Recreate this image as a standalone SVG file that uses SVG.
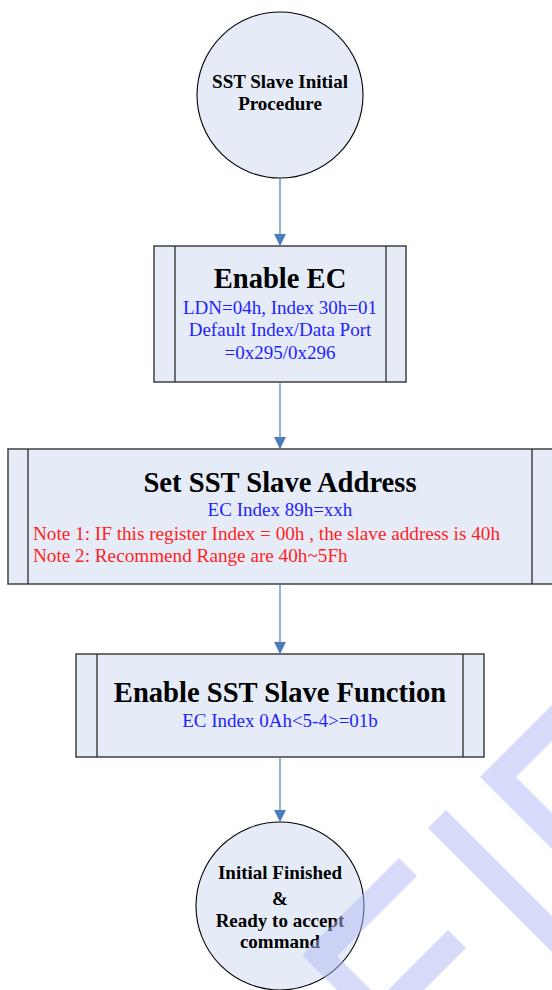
<svg xmlns="http://www.w3.org/2000/svg" width="552" height="990" viewBox="0 0 552 990">
<style>
.node{fill:#e6ecf7;}
.circ{stroke:#000;stroke-width:1.1;}
.box{stroke:#404040;stroke-width:1.5;}
.inner{stroke:#2a2a2a;stroke-width:1.3;}
.t{font-family:"Liberation Serif","Times New Roman",serif;text-anchor:middle;}
.b{font-weight:bold;fill:#000;}
.s{font-size:19px;}
.h{font-size:28.6px;}
.blue{fill:#1f1fff;font-size:19px;}
.red{fill:#ff1f1f;font-size:19.2px;text-anchor:start;}
.conn{stroke:#4a7ebb;stroke-width:1.2;fill:none;}
.wm{fill:#afb7f5;opacity:0.5;}
</style>
<defs>
<marker id="arr" markerUnits="userSpaceOnUse" markerWidth="13" markerHeight="12" refX="12" refY="6" orient="auto">
<path d="M0,0 L12,6 L0,12 z" fill="#4a7ebb"/>
</marker>
</defs>
<rect width="552" height="990" fill="#fff"/>

<g id="start">
<circle class="node circ" cx="280" cy="95" r="83"/>
<text class="t b s" x="280" y="88">SST Slave Initial</text>
<text class="t b s" x="280" y="110">Procedure</text>
</g>

<g id="enable-ec">
<rect class="node box" x="154" y="246" width="252" height="136"/>
<line class="inner" x1="175" y1="246" x2="175" y2="382"/>
<line class="inner" x1="386" y1="246" x2="386" y2="382"/>
<text class="t b h" x="280" y="288">Enable EC</text>
<text class="t blue" x="280" y="314">LDN=04h, Index 30h=01</text>
<text class="t blue" x="280" y="336">Default Index/Data Port</text>
<text class="t blue" x="280" y="359">=0x295/0x296</text>
</g>

<g id="set-address">
<rect class="node box" x="8" y="449" width="545" height="135"/>
<line class="inner" x1="28" y1="449" x2="28" y2="584"/>
<line class="inner" x1="532" y1="449" x2="532" y2="584"/>
<text class="t b h" x="280" y="492">Set SST Slave Address</text>
<text class="t blue" x="280" y="516">EC Index 89h=xxh</text>
<text class="t red" x="33" y="540">Note 1: IF this register Index = 00h , the slave address is 40h</text>
<text class="t red" x="33" y="562">Note 2: Recommend Range are 40h~5Fh</text>
</g>

<g id="enable-function">
<rect class="node box" x="76" y="654" width="408" height="103"/>
<line class="inner" x1="97" y1="654" x2="97" y2="757"/>
<line class="inner" x1="463" y1="654" x2="463" y2="757"/>
<text class="t b h" x="280" y="702">Enable SST Slave Function</text>
<text class="t blue" x="280" y="727">EC Index 0Ah&lt;5-4&gt;=01b</text>
</g>

<g id="finish">
<circle class="node circ" cx="280" cy="906" r="84"/>
<text class="t b s" x="280" y="879">Initial Finished</text>
<text class="t b s" x="280" y="905">&amp;</text>
<text class="t b s" x="280" y="927">Ready to accept</text>
<text class="t b s" x="280" y="948">command</text>
</g>

<g id="connectors">
<line class="conn" x1="280" y1="178" x2="280" y2="246" marker-end="url(#arr)"/>
<line class="conn" x1="280" y1="382" x2="280" y2="449" marker-end="url(#arr)"/>
<line class="conn" x1="280" y1="584" x2="280" y2="654" marker-end="url(#arr)"/>
<line class="conn" x1="280" y1="757" x2="280" y2="822" marker-end="url(#arr)"/>
</g>

<g id="watermark">
<polygon class="wm" points="480,777 600,657 600,693 516,777 600,861 600,897"/>
<polygon class="wm" points="428,828 446,810 600,964 582,982"/>
<polygon class="wm" points="448,930 466,948 414,1000 378,1000"/>
<polygon class="wm" points="302,955 399,858 417,876 337,956 381,1000 347,1000"/>
</g>
</svg>
